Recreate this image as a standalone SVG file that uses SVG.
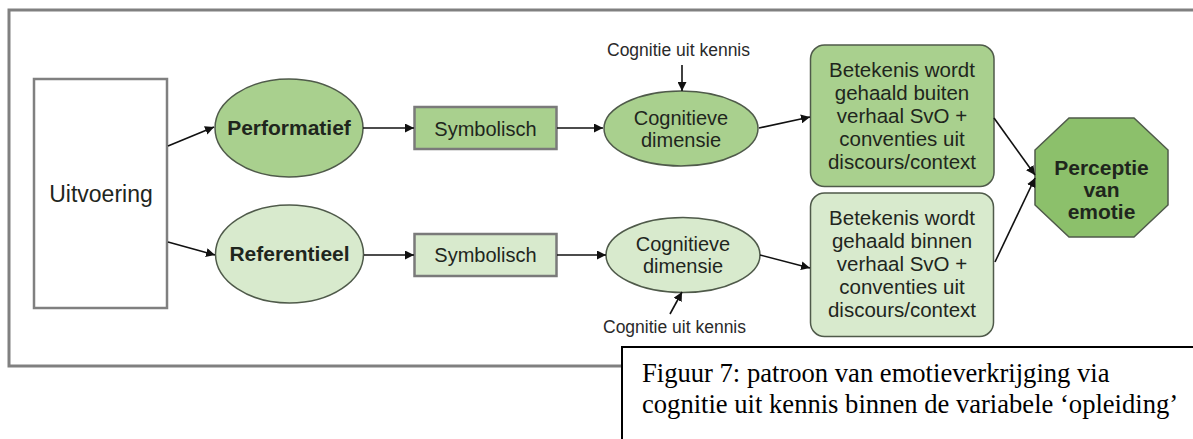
<svg xmlns="http://www.w3.org/2000/svg" width="1193" height="439" viewBox="0 0 1193 439">
<style>
.t{font-family:"Liberation Sans",Arial,sans-serif;fill:#1f261d;text-anchor:middle}
.b{font-weight:bold}
.dk{fill:#a9d08e;stroke:#4f5a4a;stroke-width:1.5}
.lt{fill:#d8eacd;stroke:#4f5a4a;stroke-width:1.5}
.box{stroke:#7a7a7a;stroke-width:2.5}
.c{stroke:#111;stroke-width:1.6;fill:none;marker-end:url(#ah)}
.k{font-size:17.5px;fill:#2a2a2a}
.cap{font-family:"Liberation Serif","Times New Roman",serif;font-size:26.6px;fill:#000}
</style>
<defs>
<marker id="ah" markerUnits="userSpaceOnUse" markerWidth="10" markerHeight="9" refX="9" refY="4.5" orient="auto">
<path d="M0,0 L9,4.5 L0,9 z" fill="#111"/>
</marker>
</defs>
<rect width="1193" height="439" fill="#fff"/>
<rect id="frame" x="9" y="10" width="1200" height="356" fill="none" stroke="#808080" stroke-width="3"/>
<g id="uitvoering">
<rect x="34" y="79" width="133" height="229" fill="#fff" stroke="#808080" stroke-width="2.5"/>
<text class="t" x="101" y="202" font-size="23">Uitvoering</text>
</g>
<g id="performatief">
<ellipse class="dk" cx="289" cy="128" rx="74" ry="49"/>
<text class="t b" x="289" y="135" font-size="21">Performatief</text>
</g>
<g id="referentieel">
<ellipse class="lt" cx="289.5" cy="254" rx="74" ry="49"/>
<text class="t b" x="289.5" y="261" font-size="21">Referentieel</text>
</g>
<g id="symbolisch1">
<rect class="dk box" x="414.5" y="107" width="142" height="42"/>
<text class="t" x="485.5" y="135.5" font-size="20">Symbolisch</text>
</g>
<g id="symbolisch2">
<rect class="lt box" x="414.5" y="234" width="142" height="42"/>
<text class="t" x="485.5" y="262" font-size="20">Symbolisch</text>
</g>
<g id="cognitief1">
<ellipse class="dk" cx="681" cy="128.5" rx="77" ry="37.5"/>
<text class="t" x="681" y="125" font-size="20">Cognitieve</text>
<text class="t" x="681" y="147" font-size="20">dimensie</text>
</g>
<g id="cognitief2">
<ellipse class="lt" cx="683" cy="255" rx="77" ry="37.5"/>
<text class="t" x="683" y="251" font-size="20">Cognitieve</text>
<text class="t" x="683" y="273" font-size="20">dimensie</text>
</g>
<g id="kennis1">
<text class="t k" x="678.5" y="56">Cognitie uit kennis</text>
</g>
<g id="kennis2">
<text class="t k" x="674.5" y="333">Cognitie uit kennis</text>
</g>
<g id="betekenis1">
<rect class="dk" x="810.5" y="45" width="183.5" height="141.5" rx="14"/>
<text class="t" x="902" y="77" font-size="20.5">Betekenis wordt</text>
<text class="t" x="902" y="100" font-size="20.5">gehaald buiten</text>
<text class="t" x="902" y="123" font-size="20.5">verhaal SvO +</text>
<text class="t" x="902" y="146" font-size="20.5">conventies uit</text>
<text class="t" x="902" y="169" font-size="20.5">discours/context</text>
</g>
<g id="betekenis2">
<rect class="lt" x="810.5" y="193" width="183" height="143.5" rx="14"/>
<text class="t" x="902" y="225" font-size="20.5">Betekenis wordt</text>
<text class="t" x="902" y="248" font-size="20.5">gehaald binnen</text>
<text class="t" x="902" y="271" font-size="20.5">verhaal SvO +</text>
<text class="t" x="902" y="294" font-size="20.5">conventies uit</text>
<text class="t" x="902" y="317" font-size="20.5">discours/context</text>
</g>
<g id="perceptie">
<polygon points="1069,118 1134,118 1168,150 1168,205 1134,237 1069,237 1035,205 1035,150" fill="#8cc06b" stroke="#4f5a4a" stroke-width="1.5"/>
<text class="t b" x="1101.5" y="175" font-size="21">Perceptie</text>
<text class="t b" x="1101.5" y="197" font-size="21">van</text>
<text class="t b" x="1101.5" y="219" font-size="21">emotie</text>
</g>
<g id="connectors">
<path class="c" d="M168,146 L214,127"/>
<path class="c" d="M168,242 L215,255"/>
<path class="c" d="M363,128 L414,128"/>
<path class="c" d="M364,255 L414,255"/>
<path class="c" d="M557,128 L603,128"/>
<path class="c" d="M557,255 L606,255"/>
<path class="c" d="M759,128 L810,117"/>
<path class="c" d="M760,255 L810,268"/>
<path class="c" d="M994,118 L1035,175"/>
<path class="c" d="M995,262 L1035,178"/>
<path class="c" d="M682,65 L682,91"/>
<path class="c" d="M670,314 L682,292"/>
</g>
<g id="caption">
<rect x="622" y="347" width="600" height="120" fill="#fff" stroke="#000" stroke-width="2"/>
<text class="cap" x="642" y="382">Figuur 7: patroon van emotieverkrijging via</text>
<text class="cap" x="642" y="413">cognitie uit kennis binnen de variabele ‘opleiding’</text>
</g>
</svg>
